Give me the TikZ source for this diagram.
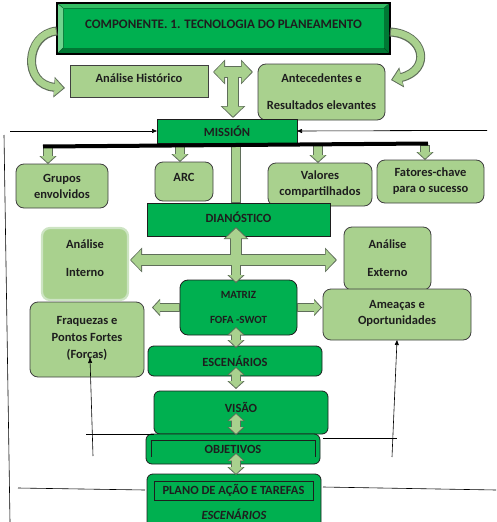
\documentclass[tikz,border=0pt]{standalone}
\usepackage{fontspec}
\setmainfont{Carlito}
\usetikzlibrary{arrows.meta,positioning}

\definecolor{boxgreen}{RGB}{0,176,80}
\definecolor{lightgreen}{RGB}{169,209,142}
\definecolor{softedge}{RGB}{205,228,195}
\definecolor{bevlight}{RGB}{110,212,142}
\definecolor{bevmid}{RGB}{52,190,100}
\definecolor{bevdark}{RGB}{0,120,52}
\definecolor{arrline}{RGB}{95,110,90}
\definecolor{inkgray}{RGB}{30,30,30}

\begin{document}
\begin{tikzpicture}[x=1pt, y=-1pt, font=\fontsize{12.5}{15.5}\selectfont\bfseries, text=inkgray]
    % Define styles
    \tikzstyle{main} = [draw=inkgray, fill=boxgreen, line width=0.8pt, align=center, inner sep=0pt, outer sep=0pt]
    \tikzstyle{mainr} = [main, rounded corners=6pt]
    \tikzstyle{sub} = [draw=inkgray!85, fill=lightgreen, line width=0.8pt, rounded corners=8pt, align=center, inner sep=0pt, outer sep=0pt]
    \tikzstyle{subsq} = [sub, sharp corners]
    \tikzstyle{line} = [draw=black, line width=0.6pt]
    \tikzstyle{arrow} = [line, -{Triangle[length=5pt,width=4pt]}]
    \tikzstyle{bigout} = [draw=arrline, line width=12pt, >={Triangle[width=24pt,length=12pt]}]
    \tikzstyle{bigin} = [draw=lightgreen, line width=9.6pt, >={Triangle[width=20.5pt,length=10pt]}, shorten >=1.4pt, shorten <=1.2pt]
    \tikzstyle{smallout} = [draw=arrline, line width=9.5pt, >={Triangle[width=17pt,length=8pt]}]
    \tikzstyle{smallin} = [draw=lightgreen, line width=7.3pt, >={Triangle[width=13.8pt,length=6.6pt]}, shorten >=1.3pt, shorten <=1.1pt]
    \tikzstyle{curveout} = [draw=arrline, line width=9pt, >={Triangle[width=20pt,length=11pt]}]
    \tikzstyle{curvein} = [draw=lightgreen, line width=6.8pt, >={Triangle[width=16.5pt,length=9pt]}, shorten >=1.5pt, shorten <=1.1pt]

    \useasboundingbox (0,0) rectangle (496,522);

    % Title with bevel
    \node[draw=black, fill=bevdark, line width=1.2pt, minimum width=333pt, minimum height=51pt, inner sep=0pt, outer sep=0pt] (titlebox) at (223.5,28.5) {};
    \node[fill=boxgreen, draw=bevdark, line width=0.5pt, minimum width=321pt, minimum height=40pt, inner sep=0pt, outer sep=0pt, text depth=7pt, font=\fontsize{13}{15.5}\selectfont\bfseries] (title) at (223.5,28) {COMPONENTE. 1. TECNOLOGIA DO PLANEAMENTO};
    \fill[bevmid] (titlebox.north west) -- (titlebox.north east) -- (title.north east) -- (title.north west) -- cycle;
    \fill[bevlight] (titlebox.north west) -- (titlebox.south west) -- (title.south west) -- (title.north west) -- cycle;
    \draw[bevdark!70!black, line width=0.4pt] (titlebox.north west) -- (title.north west) (titlebox.south west) -- (title.south west)
        (titlebox.north east) -- (title.north east) (titlebox.south east) -- (title.south east);
    \draw[black, line width=1.2pt] (titlebox.north west) rectangle (titlebox.south east);

    % Layer 1: history and background
    \node[subsq, minimum width=138pt, minimum height=32pt, text depth=5pt] (hist) at (139,81) {Análise Histórico};
    \node[sub, minimum width=127pt, minimum height=56pt] (antec) at (321.5,92) {Antecedentes e\\[11.5pt]Resultados elevantes};

    % Layer 2: Mission
    \node[main, minimum width=140pt, minimum height=24pt] (mission) at (227,131) {MISSIÓN};

    % Layer 3: Mission parts
    \node[sub, minimum width=92pt, minimum height=44pt] (grupos) at (62,186) {Grupos\\[0.5pt]envolvidos};
    \node[sub, minimum width=58pt, minimum height=39pt, text depth=9pt] (arc) at (184,181.5) {ARC};
    \node[sub, minimum width=104pt, minimum height=43pt] (valores) at (320,184.5) {Valores\\[0.5pt]compartilhados};
    \node[sub, minimum width=107pt, minimum height=43pt] (fatores) at (430.5,181.5) {Fatores-chave\\[0.5pt]para o sucesso};

    % Layer 4: Diagnostic
    \node[main, minimum width=183pt, minimum height=33pt, text depth=4pt] (diag) at (238.5,219.5) {DIANÓSTICO};
    \node[sub, draw=softedge, line width=2.2pt, minimum width=86pt, minimum height=72pt, text depth=12pt] (intern) at (85,264) {Análise\\[12.5pt]Interno};
    \node[sub, minimum width=87pt, minimum height=63pt] (extern) at (387.5,258.5) {Análise\\[12.5pt]Externo};

    % Layer 5: SWOT
    \node[mainr, rounded corners=8pt, minimum width=117pt, minimum height=55pt, font=\fontsize{11}{13}\selectfont\bfseries] (matriz) at (238.5,307.5) {MATRIZ\\[12pt]FOFA -SWOT};
    \node[sub, minimum width=114pt, minimum height=75pt, text depth=5pt] (fraq) at (87,339.5) {Fraquezas e\\[1.5pt]Pontos Fortes\\[1.5pt](Forças)};
    \node[sub, minimum width=148pt, minimum height=51pt, text depth=4pt] (ameacas) at (397,314.5) {Ameaças e\\Oportunidades};

    % Layer 6: Scenarios, vision, objectives, plan
    \node[mainr, minimum width=174pt, minimum height=30pt] (escen) at (235,361) {ESCENÁRIOS};
    \node[mainr, minimum width=174pt, minimum height=43pt, text depth=11pt] (visao) at (241,412.5) {VISÃO};
    \node[mainr, minimum width=174pt, minimum height=30pt] (objet) at (233,449) {OBJETIVOS};
    \draw[inkgray, line width=0.7pt] ([xshift=5pt,yshift=7pt]objet.south west) -- ([xshift=5pt,yshift=-6pt]objet.north west)
        -- ([xshift=-5pt,yshift=-6pt]objet.north east) -- ([xshift=-5pt,yshift=7pt]objet.south east);
    \node[mainr, minimum width=174pt, minimum height=60pt] (plano) at (234,504) {};
    \node[draw=inkgray, line width=0.8pt, minimum width=159pt, minimum height=19pt, inner sep=0pt] (tarefas) at (233.5,490.5) {PLANO DE AÇÃO E TAREFAS};
    \node[font=\fontsize{12.5}{15.5}\selectfont\bfseries\itshape] (planoesc) at (234,514.5) {ESCENÁRIOS};

    % Arrow anchor points
    \coordinate (tee) at (233,72);
    \coordinate (teel) at (213,72);
    \coordinate (teer) at (253,72);
    \coordinate (teeb) at (233,118);
    \coordinate (stemt) at (236,143);
    \coordinate (stemb) at (236,203);
    \coordinate (d1) at (48,147);
    \coordinate (d2) at (180,146);
    \coordinate (d3) at (318,145);
    \coordinate (d4) at (425,145);
    \coordinate (cx) at (236,260);
    \coordinate (cup) at (236,227);
    \coordinate (cl) at (130,260);
    \coordinate (cr) at (337,260);
    \coordinate (cdown) at (236,283);
    \coordinate (ml) at (152,307.5);
    \coordinate (mr) at (322,307.5);
    \coordinate (v1a) at (236,327);
    \coordinate (v1b) at (236,348);
    \coordinate (v2a) at (236,367);
    \coordinate (v2b) at (236,389);
    \coordinate (v3a) at (236,413);
    \coordinate (v3b) at (236,435);
    \coordinate (v4a) at (236,453);
    \coordinate (v4b) at (236,475);

    % Fat arrows: outlines
    \draw[curveout, ->] (titlebox.west |- 0,31) .. controls (25,34) and (22,85) .. (65,88);
    \draw[curveout, ->] (titlebox.east |- 0,32) .. controls (425,34) and (432,70) .. (391,80);
    \draw[bigout, <->] (teel) -- (teer);
    \draw[bigout, ->] (tee) -- (teeb);
    \draw[smallout] (stemt) -- (stemb);
    \foreach \d/\b in {d1/grupos, d2/arc, d3/valores, d4/fatores}
        \draw[smallout, ->] (\d) -- (\d |- \b.north);
    \draw[bigout, <->] (cl) -- (cr);
    \draw[bigout, ->] (cx) -- (cup);
    \draw[smallout, ->] (cx) -- (cdown);
    \draw[smallout, ->] (matriz.west) -- (ml);
    \draw[smallout, ->] (matriz.east) -- (mr);
    \draw[smallout, <->] (v1a) -- (v1b);
    \draw[smallout, <->] (v2a) -- (v2b);
    \draw[smallout, <->] (v3a) -- (v3b);
    \draw[smallout, <->] (v4a) -- (v4b);

    % Fat arrows: fills
    \draw[curvein, ->] (titlebox.west |- 0,31) .. controls (25,34) and (22,85) .. (65,88);
    \draw[curvein, ->] (titlebox.east |- 0,32) .. controls (425,34) and (432,70) .. (391,80);
    \draw[bigin, <->] (teel) -- (teer);
    \draw[bigin, ->, shorten <=0pt] (tee) -- (teeb);
    \draw[smallin] (stemt) -- (stemb);
    \foreach \d/\b in {d1/grupos, d2/arc, d3/valores, d4/fatores}
        \draw[smallin, ->] (\d) -- (\d |- \b.north);
    \draw[bigin, <->] (cl) -- (cr);
    \draw[bigin, ->, shorten <=0pt] (cx) -- (cup);
    \draw[smallin, ->, shorten <=0pt] (cx) -- (cdown);
    \draw[smallin, ->] (matriz.west) -- (ml);
    \draw[smallin, ->] (matriz.east) -- (mr);
    \draw[smallin, <->] (v1a) -- (v1b);
    \draw[smallin, <->] (v2a) -- (v2b);
    \draw[smallin, <->] (v3a) -- (v3b);
    \draw[smallin, <->] (v4a) -- (v4b);

    % Thin lines and arrows
    \coordinate (lin) at (10,131);
    \coordinate (rin) at (487,130.5);
    \coordinate (rmid) at (390,130.5);
    \draw[arrow] (lin) -- (mission.west);
    \draw[arrow] (rin) -- (mission.east);
    \draw[line width=1.8pt] (rin) -- (rmid);
    \draw[line width=4pt] (43,146.5) -- (428,143.5);
    \draw[line] (4,135) -- (10,522);
    \coordinate (vl) at (86,434);
    \draw[line] (vl) -- (visao.south west);
    \draw[line] (323,438) -- (397,438);
    \coordinate (la) at (93,456);
    \coordinate (lb) at (90,358);
    \draw[arrow] (la) -- (lb);
    \coordinate (ra) at (392,457);
    \draw[arrow] (ra) -- (ameacas.south);
    \draw[line] (18,488) -- (145,490);
    \draw[line] (323,487) -- (496,490);
\end{tikzpicture}
\end{document}
